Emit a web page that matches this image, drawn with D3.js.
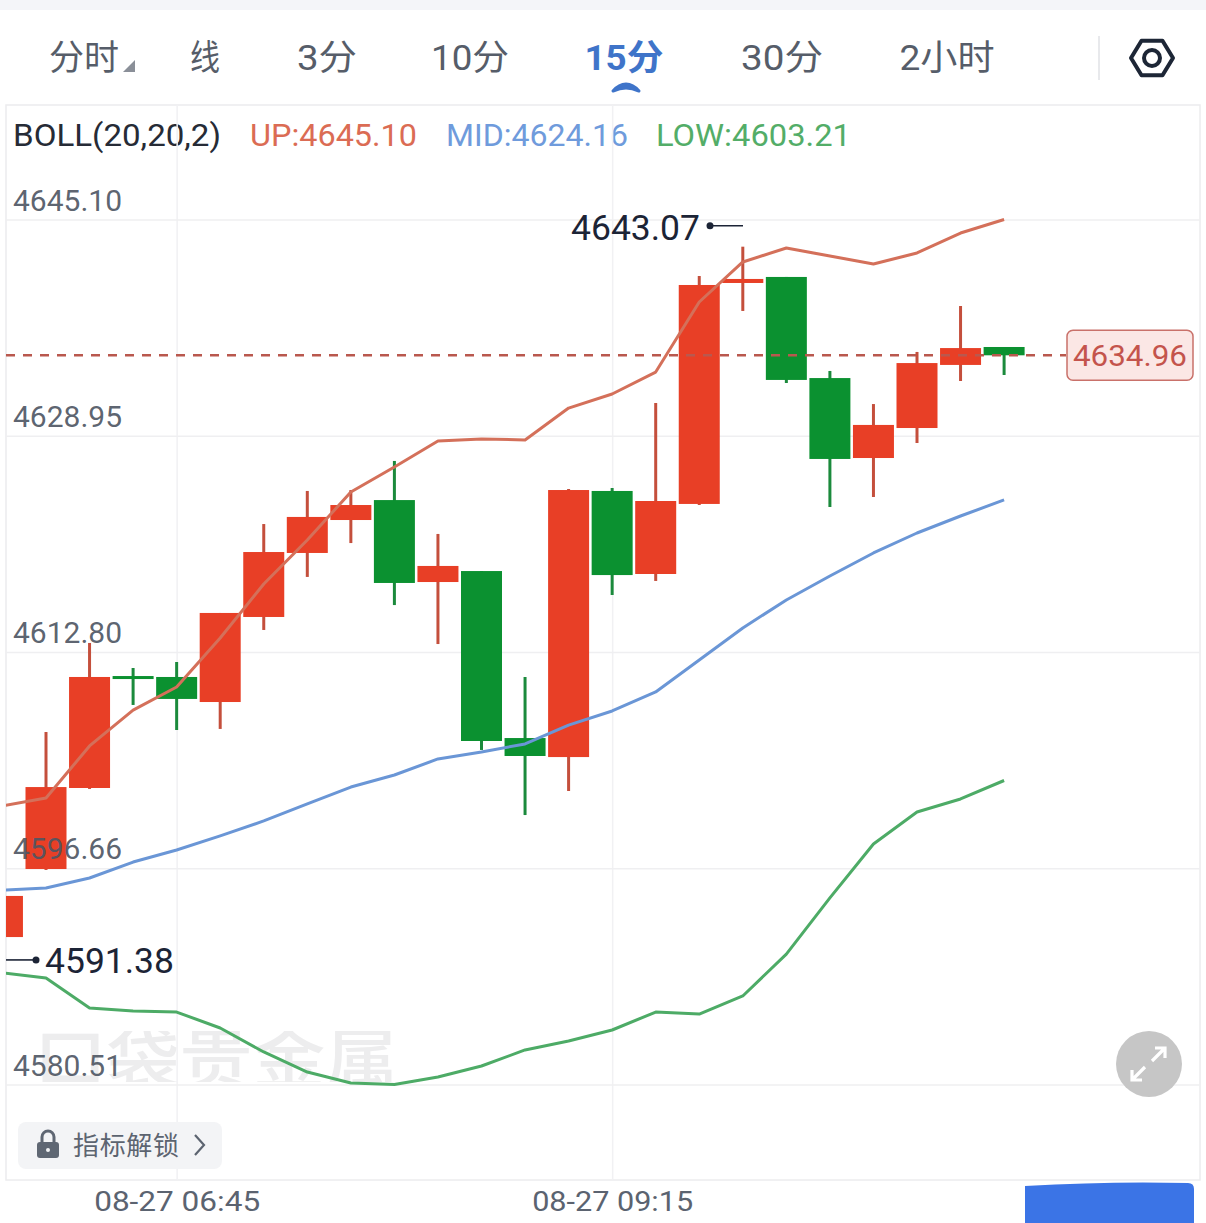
<!DOCTYPE html>
<html><head><meta charset="utf-8">
<script src="https://cdn.jsdelivr.net/npm/d3@7/dist/d3.min.js"></script>
<style>html,body{margin:0;padding:0;background:#fff;overflow:hidden}svg{display:block}
text{font-family:Roboto,"Noto Sans CJK SC",sans-serif}</style></head><body>
<svg id="c" width="1206" height="1223"></svg>
<script>
const times=["05:45","06:00","06:15","06:30","06:45","07:00","07:15","07:30","07:45","08:00","08:15","08:30","08:45","09:00","09:15","09:30","09:45","10:00","10:15","10:30","10:45","11:00","11:15","11:30"];
const open =[4591.52,4596.60,4602.65,4611.01,4610.94,4609.07,4615.42,4620.20,4622.66,4624.15,4618.03,4618.85,4606.38,4604.96,4624.83,4618.63,4623.86,4640.36,4640.81,4633.26,4627.29,4629.53,4634.24,4635.58];
const close=[4594.59,4602.72,4610.94,4610.79,4609.30,4615.72,4620.27,4622.89,4623.78,4617.96,4619.23,4606.16,4605.04,4624.90,4618.55,4624.08,4640.21,4640.66,4633.12,4627.22,4629.76,4634.38,4635.50,4634.96];
const high =[4594.59,4606.83,4613.48,4611.61,4612.06,4615.72,4622.36,4624.83,4624.90,4627.07,4621.62,4618.85,4610.94,4624.98,4625.05,4631.40,4640.88,4643.07,4640.81,4633.79,4631.32,4635.21,4638.64,4635.58];
const low  =[4591.38,4596.53,4602.58,4608.85,4606.98,4607.06,4614.45,4618.41,4620.94,4616.31,4613.40,4605.49,4600.63,4602.43,4617.06,4618.11,4623.78,4638.27,4632.89,4623.63,4624.38,4628.41,4633.04,4633.49];
const upper=[4601.31,4601.90,4605.79,4608.47,4610.19,4613.85,4617.88,4621.17,4624.75,4626.62,4628.56,4628.71,4628.64,4631.02,4632.07,4633.71,4638.94,4641.93,4642.97,4642.37,4641.78,4642.60,4644.09,4645.10];
const middle=[4595.03,4595.18,4595.93,4597.12,4598.02,4599.07,4600.19,4601.46,4602.72,4603.62,4604.82,4605.34,4605.94,4607.35,4608.40,4609.82,4612.21,4614.60,4616.69,4618.48,4620.20,4621.69,4622.96,4624.16];
const lower=[4588.84,4588.46,4586.22,4586.00,4585.92,4584.73,4582.94,4581.44,4580.62,4580.51,4581.07,4581.89,4583.09,4583.76,4584.58,4585.92,4585.77,4587.12,4590.25,4594.44,4598.47,4600.86,4601.83,4603.21];
const yTicks=[4645.10,4628.95,4612.80,4596.66,4580.51];
const xTicks=[4,14];
const xTickLabels=["08-27 06:45","08-27 09:15"];
const tabs=["分时","线","3分","10分","15分","30分","2小时"];
const activeTab="15分";
const legendItems=["BOLL(20,20,2)","UP:4645.10","MID:4624.16","LOW:4603.21"];
const lastPrice=4634.96, maxPrice=4643.07, minPrice=4591.38;

const svg=d3.select("#c");
const F={l:6,r:1200,t:105,b:1180};
const x=d3.scaleLinear().domain([0,23]).range([2.45,1004.1]);
const y=d3.scaleLinear().domain([4580.51,4645.10]).range([1084.5,219.5]);
const defs=svg.append("defs");
defs.append("clipPath").attr("id","plot").append("rect").attr("x",F.l).attr("y",F.t).attr("width",F.r-F.l).attr("height",F.b-F.t);
defs.append("clipPath").attr("id","wm").append("rect").attr("x",30).attr("y",1031).attr("width",372).attr("height",51);
const fontNum="Roboto,sans-serif";

// top strip
svg.append("rect").attr("width",1206).attr("height",10).attr("fill","#f4f5f9");

// tabs
const tabX=[84,205,327,470,624,782,947], tabW=[70,30,60,78,79,82,95];
svg.append("g").selectAll("text").data(tabs).join("text")
  .attr("x",(d,i)=>tabX[i]).attr("y",70).attr("text-anchor","middle")
  .attr("font-size",35).attr("font-weight",d=>d===activeTab?700:400)
  .attr("fill",d=>d===activeTab?"#3f74c9":"#565d69")
  .attr("textLength",(d,i)=>tabW[i]).attr("lengthAdjust","spacingAndGlyphs")
  .text(d=>d);
svg.append("path").attr("d","M123,72L135,60L135,72Z").attr("fill","#8a8f98");
svg.append("path").attr("d","M613,91Q619,84 626,84Q633,84 639,91Q632,88 626,88Q620,88 613,91Z")
  .attr("fill","#3f74c9").attr("stroke","#3f74c9").attr("stroke-width",3).attr("stroke-linejoin","round");
svg.append("line").attr("x1",1099).attr("x2",1099).attr("y1",36).attr("y2",80).attr("stroke","#e8e9ec").attr("stroke-width",2);
// settings hexagon
const hex=d3.range(6).map(i=>[1152+21*Math.cos(i*Math.PI/3),58+20*Math.sin(i*Math.PI/3)]);
svg.append("path").attr("d",d3.line().curve(d3.curveLinearClosed)(hex)).attr("fill","none").attr("stroke","#1d2636").attr("stroke-width",4).attr("stroke-linejoin","round");
svg.append("circle").attr("cx",1152).attr("cy",58).attr("r",8).attr("fill","none").attr("stroke","#1d2636").attr("stroke-width",4);

// frame
svg.append("rect").attr("x",F.l).attr("y",F.t).attr("width",F.r-F.l).attr("height",F.b-F.t).attr("fill","#fff").attr("stroke","#ececee").attr("stroke-width",1.5);

// legend
const legX=[13,250,446,656], legW=[208,167,182,195], legC=["#262b36","#db6c54","#6f9bdc","#53ad68"];
svg.append("g").selectAll("text").data(legendItems).join("text")
  .attr("x",(d,i)=>legX[i]).attr("y",146).attr("font-size",30.5).attr("font-family",fontNum)
  .attr("fill",(d,i)=>legC[i]).attr("textLength",(d,i)=>legW[i]).attr("lengthAdjust","spacingAndGlyphs").text(d=>d);

// vertical grid + x axis
const xAxis=d3.axisBottom(x).tickValues(xTicks).tickSize(-(F.b-F.t)).tickFormat((d,i)=>xTickLabels[i]);
const gx=svg.append("g").attr("transform",`translate(0,${F.b})`).call(xAxis);
gx.select(".domain").remove();
gx.selectAll("line").attr("stroke","#f1f1f3").attr("stroke-width",1.5);
gx.selectAll("text").attr("y",11).attr("dy","0.71em").attr("font-size",28).attr("font-family",fontNum).attr("fill","#5b6370")
  .attr("textLength",(d,i)=>i?161:166).attr("lengthAdjust","spacingAndGlyphs");

// horizontal grid
const yAxisGrid=d3.axisRight(y).tickValues(yTicks).tickSize(F.r-F.l).tickFormat("");
const gg=svg.append("g").attr("transform",`translate(${F.l},0)`).call(yAxisGrid);
gg.select(".domain").remove();
gg.selectAll("line").attr("stroke","#efeff1").attr("stroke-width",1.5);

// watermark
svg.append("g").attr("clip-path","url(#wm)").append("text").attr("x",34).attr("y",1083).attr("font-size",66).attr("font-weight",500)
  .attr("fill","#ededee").attr("textLength",364).attr("lengthAdjust","spacingAndGlyphs").text("口袋贵金属");

// plot
const plot=svg.append("g").attr("clip-path","url(#plot)");
const N=d3.range(times.length);
const isUp=i=>close[i]>=open[i];
const RED="#e83f26",GREEN="#0b9130",RW="#c44f3c",GW="#1b8a3c";
plot.append("g").selectAll("line").data(N).join("line")
  .attr("x1",i=>x(i)).attr("x2",i=>x(i)).attr("y1",i=>y(high[i])).attr("y2",i=>y(low[i]))
  .attr("stroke",i=>isUp(i)?RW:GW).attr("stroke-width",3);
plot.append("g").selectAll("rect").data(N).join("rect")
  .attr("x",i=>x(i)-20.5).attr("width",41)
  .attr("y",i=>y(Math.max(open[i],close[i])))
  .attr("height",i=>Math.max(3,Math.abs(y(open[i])-y(close[i]))))
  .attr("fill",i=>isUp(i)?RED:GREEN);
const line=d3.line().x((d,i)=>x(i)).y(d=>y(d));
[[upper,"#d4705a"],[middle,"#6a96d6"],[lower,"#4dab66"]].forEach(([s,c])=>{
  plot.append("path").attr("d",line(s)).attr("fill","none").attr("stroke",c).attr("stroke-width",3).attr("stroke-linejoin","round");
});

// last price
const ly=y(lastPrice);
svg.append("line").attr("x1",F.l).attr("x2",1066).attr("y1",ly).attr("y2",ly).attr("stroke","#b9584e").attr("stroke-width",2.6).attr("stroke-dasharray","9,8");
svg.append("rect").attr("x",1067).attr("y",ly-25).attr("width",126).attr("height",50).attr("rx",6).attr("fill","#fbe7e5").attr("stroke","#c9716a").attr("stroke-width",1.5);
svg.append("text").attr("x",1130).attr("y",ly+10.5).attr("text-anchor","middle").attr("font-size",29.5).attr("font-family",fontNum).attr("fill","#c4544c").attr("textLength",114).attr("lengthAdjust","spacingAndGlyphs").text(lastPrice.toFixed(2));

// y labels
svg.append("g").selectAll("text").data(yTicks).join("text")
  .attr("x",13).attr("y",d=>y(d)-9).attr("font-size",29).attr("font-family",fontNum)
  .attr("fill","#4e5663").attr("fill-opacity",0.92).attr("textLength",109).attr("lengthAdjust","spacingAndGlyphs").text(d=>d.toFixed(2));

// extremes
const ink="#1c2436";
svg.append("text").attr("x",571).attr("y",y(maxPrice)-7).attr("font-size",35).attr("font-family",fontNum).attr("fill",ink).attr("textLength",129).attr("lengthAdjust","spacingAndGlyphs").text(maxPrice.toFixed(2));
svg.append("circle").attr("cx",710).attr("cy",y(maxPrice)-21).attr("r",3.5).attr("fill",ink);
svg.append("line").attr("x1",710).attr("x2",743).attr("y1",y(maxPrice)-21).attr("y2",y(maxPrice)-21).attr("stroke",ink).attr("stroke-width",1.6);
const my=y(minPrice)+21;
svg.append("text").attr("x",45).attr("y",my+13).attr("font-size",35).attr("font-family",fontNum).attr("fill",ink).attr("textLength",129).attr("lengthAdjust","spacingAndGlyphs").text(minPrice.toFixed(2));
svg.append("circle").attr("cx",36).attr("cy",my).attr("r",3.5).attr("fill",ink);
svg.append("line").attr("x1",F.l).attr("x2",36).attr("y1",my).attr("y2",my).attr("stroke",ink).attr("stroke-width",1.6);

// unlock button
svg.append("rect").attr("x",18).attr("y",1122).attr("width",204).attr("height",47).attr("rx",8).attr("fill","#f3f4f6");
svg.append("path").attr("d","M42,1143v-6a6,6 0 0 1 12,0v6").attr("fill","none").attr("stroke","#5f6773").attr("stroke-width",3);
svg.append("rect").attr("x",37).attr("y",1142).attr("width",22).attr("height",16).attr("rx",3).attr("fill","#5f6773");
svg.append("circle").attr("cx",48).attr("cy",1150).attr("r",2).attr("fill","#f3f4f6");
svg.append("text").attr("x",73).attr("y",1155).attr("font-size",26).attr("fill","#5c6470").attr("textLength",106).attr("lengthAdjust","spacing").text("指标解锁");
svg.append("path").attr("d","M195,1135L204,1145L195,1155").attr("fill","none").attr("stroke","#5c6470").attr("stroke-width",2.2);

// expand button
svg.append("circle").attr("cx",1149).attr("cy",1064).attr("r",33).attr("fill","#c6c6c6");
svg.append("path").attr("d","M1152,1061L1165,1048M1155,1048H1165V1058M1145,1067L1132,1080M1132,1070V1080H1142")
  .attr("fill","none").attr("stroke","#fff").attr("stroke-width",3.2);

// blue redaction block
svg.append("path").attr("d","M1025,1223V1186Q1110,1181 1188,1183Q1194,1183 1194,1189V1223Z").attr("fill","#3b74e6");
</script></body></html>
